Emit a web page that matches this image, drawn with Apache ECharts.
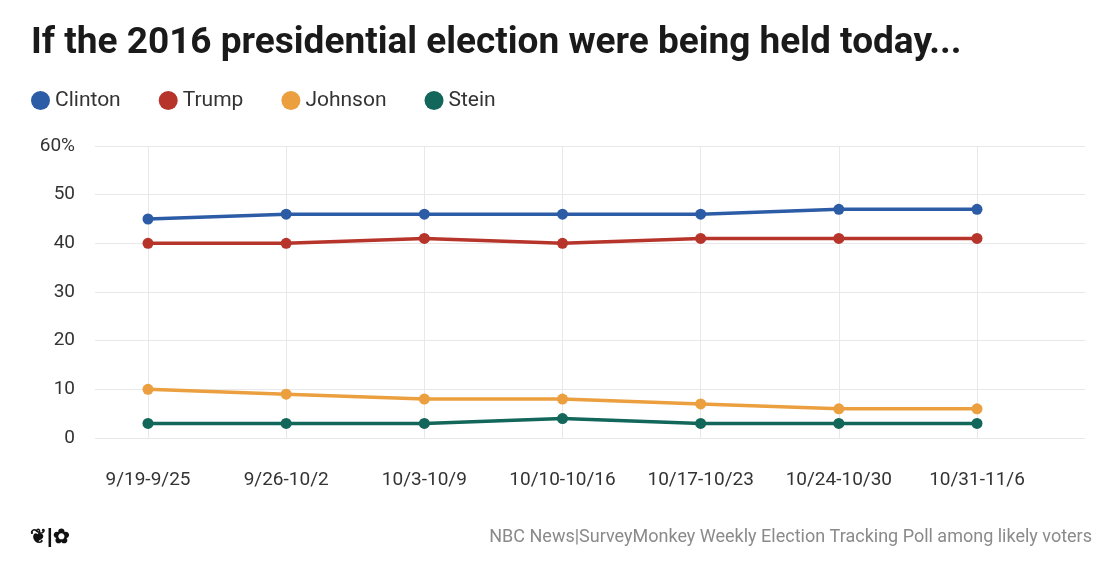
<!DOCTYPE html>
<html><head><meta charset="utf-8">
<script src="https://cdn.jsdelivr.net/npm/echarts@6/dist/echarts.min.js"></script>
<style>html,body{margin:0;padding:0;background:#fff}#c{width:1120px;height:588px}</style>
</head><body><div id="c"></div>
<script>
const categories = ['9/19-9/25','9/26-10/2','10/3-10/9','10/10-10/16','10/17-10/23','10/24-10/30','10/31-11/6'];
const clinton = [45,46,46,46,46,47,47];
const trump = [40,40,41,40,41,41,41];
const johnson = [10,9,8,8,7,6,6];
const stein = [3,3,3,4,3,3,3];
const yTicks = [0,10,20,30,40,50,60];

const names = ['Clinton','Trump','Johnson','Stein'];
const colors = ['#2d5ca6','#b7342b','#eb9f3f','#12665a'];
const datas = [clinton,trump,johnson,stein];
const F = 'Roboto, "Open Sans", sans-serif';
const chart = echarts.init(document.getElementById('c'));
chart.setOption({
  animation:false,
  color:colors,
  title:{text:'If the 2016 presidential election were being held today...',left:26,top:20,
    textStyle:{fontFamily:F,fontSize:37,fontWeight:'bold',color:'#1a1a1a'}},
  legend:{left:26,top:85,itemWidth:19,itemHeight:19,icon:'circle',itemGap:38,
    textStyle:{fontFamily:F,fontSize:21,color:'#333'},data:names},
  grid:[{left:95,right:35,top:146,bottom:150},{left:148,right:143,top:146,bottom:150}],
  xAxis:[
    {gridIndex:0,type:'value',min:0,max:1,show:false},
    {gridIndex:1,type:'category',data:categories,boundaryGap:false,
     axisLine:{show:false},axisTick:{show:false},
     splitLine:{show:true,interval:0,lineStyle:{color:'#e8e8e8'}},
     axisLabel:{interval:0,margin:33,fontFamily:F,fontSize:19,color:'#333'}}
  ],
  yAxis:[
    {gridIndex:0,type:'value',min:0,max:60,interval:10,
     axisLine:{show:false},axisTick:{show:false},
     splitLine:{lineStyle:{color:'#e8e8e8'}},
     axisLabel:{margin:20,fontFamily:F,fontSize:19,color:'#333',
       formatter:v=>v===60?'60%':String(v)}},
    {gridIndex:1,type:'value',min:0,max:60,interval:10,show:false,splitLine:{show:false}}
  ],
  series:datas.map((d,i)=>({name:names[i],type:'line',xAxisIndex:1,yAxisIndex:1,data:d,
    symbol:'circle',symbolSize:11,lineStyle:{width:3.5,color:colors[i]},
    itemStyle:{color:colors[i]}})),
  graphic:[
    {type:'text',left:30,top:527,style:{text:'\u2766|\u273F',fontSize:20,fill:'#111',fontWeight:'bold'}},
    {type:'text',right:28,top:528,style:{text:'NBC News|SurveyMonkey Weekly Election Tracking Poll among likely voters',
      fontFamily:F,fontSize:18,fill:'#8a8a8a'}}
  ]
});
</script></body></html>
